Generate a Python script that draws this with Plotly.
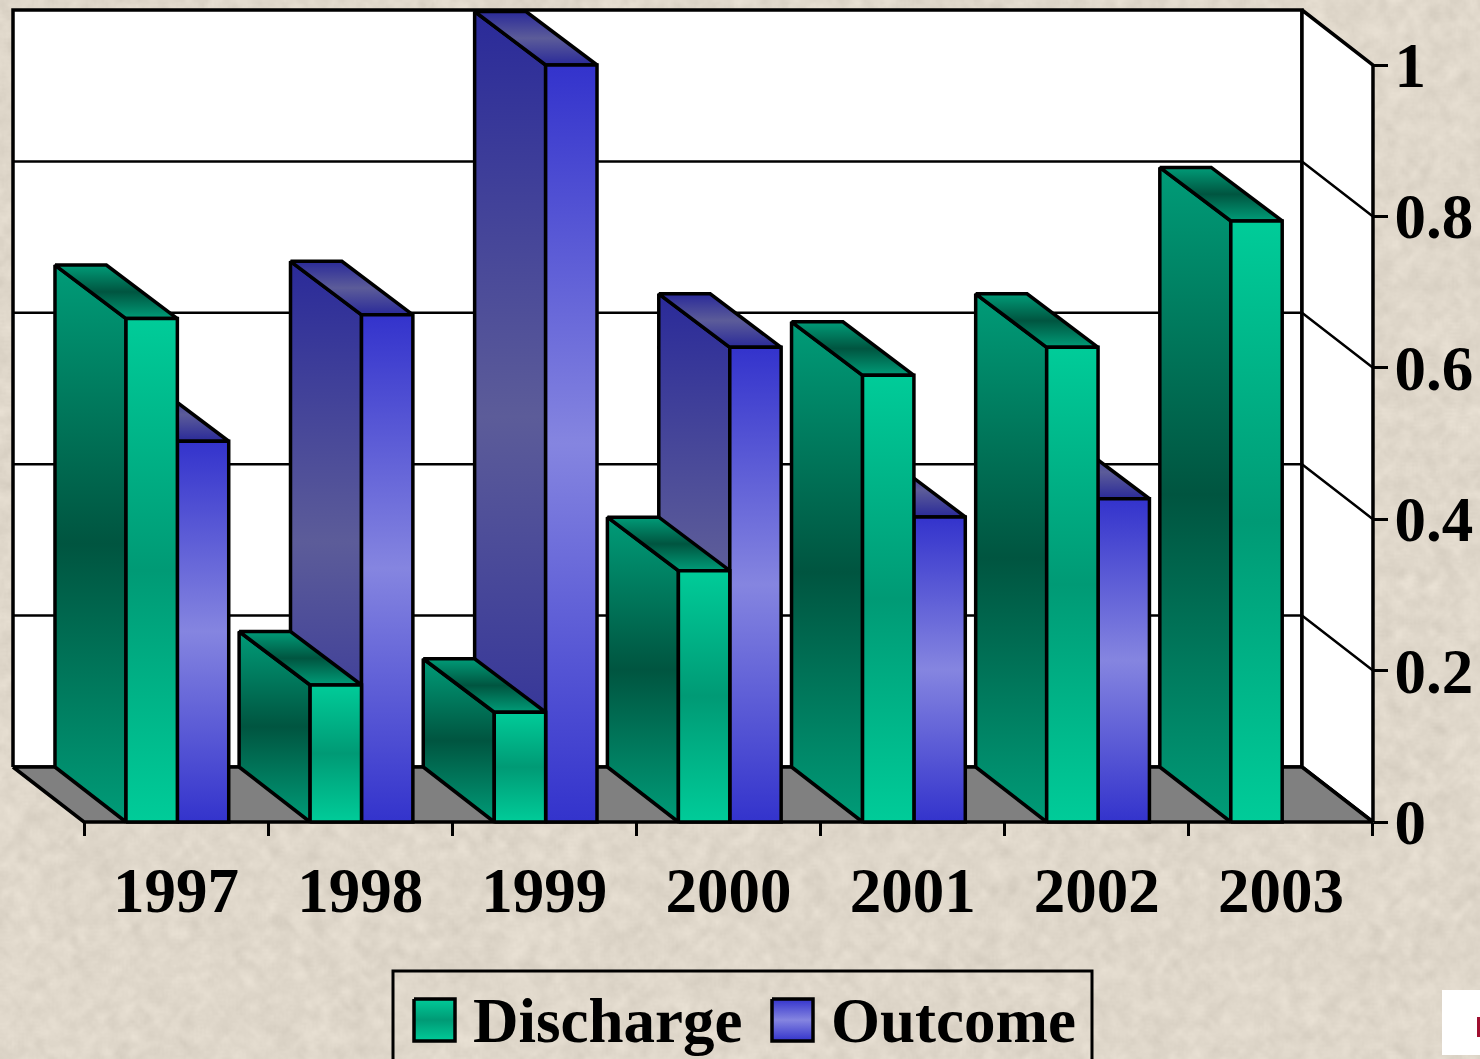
import base64
import struct
import zlib

import numpy as np
import plotly.graph_objects as go

# ---- data ----
years = ["1997", "1998", "1999", "2000", "2001", "2002", "2003"]
discharge = [0.665, 0.181, 0.145, 0.332, 0.590, 0.627, 0.794]
outcome = [0.503, 0.670, 1.0, 0.627, 0.403, 0.427, None]
y_ticks = [0, 0.2, 0.4, 0.6, 0.8, 1]
y_labels = ["0", "0.2", "0.4", "0.6", "0.8", "1"]

W, H = 1480, 1059
CAT_PX, UNIT_PX, X0_PX, Y0_PX = 184.14, 757.0, 84.0, 822.0
DX, DY = -71 / CAT_PX, 55 / UNIT_PX      # 3-D depth offset, in axis units
DY_TOP = 53.5 / UNIT_PX                  # depth rise of the bar tops
GAP, BAR = 0.228, 0.279                  # cluster gap / bar width, in categories
FONT = "Liberation Serif"
BG = "#e0d8cb"


def paper_texture():
    """Deterministic speckled paper background, as a PNG data URI."""
    h, w = H // 2, W // 2
    yy, xx = np.mgrid[0:h, 0:w].astype(float)
    noise = np.mod(np.sin(xx * 12.9898 + yy * 78.233) * 43758.5453, 1.0)
    soft = sum(np.roll(np.roll(noise, a, 0), b, 1) for a in (-1, 0, 1) for b in (-1, 0, 1)) / 9
    soft2 = sum(np.roll(np.roll(noise, a, 0), b, 1) for a in range(-3, 4) for b in range(-3, 4)) / 49
    shade = (soft - 0.5) * 22 + (soft2 - 0.5) * 40
    base = np.array([224.0, 216.0, 203.0])
    rgb = np.clip(base[None, None, :] + shade[:, :, None], 0, 255).astype(np.uint8)
    raw = b"".join(b"\x00" + rgb[r].tobytes() for r in range(h))

    def chunk(tag, data):
        return struct.pack(">I", len(data)) + tag + data + struct.pack(">I", zlib.crc32(tag + data))

    png = (b"\x89PNG\r\n\x1a\n" + chunk(b"IHDR", struct.pack(">IIBBBBB", w, h, 8, 2, 0, 0, 0))
           + chunk(b"IDAT", zlib.compress(raw, 9)) + chunk(b"IEND", b""))
    return "data:image/png;base64," + base64.b64encode(png).decode()


def grad(edge, mid):
    return [[0, edge], [0.5, mid], [1, edge]]


STYLES = {
    "Discharge": dict(front=grad("#00cc99", "#009a75"), side=grad("#009c78", "#005540"),
                      top=grad("#009c78", "#005540")),
    "Outcome": dict(front=grad("#3333cc", "#8585e0"), side=grad("#2a2a99", "#5c5c99"),
                    top=grad("#2a2a99", "#5c5c99")),
}

fig = go.Figure()


def poly(xs, ys, fill=None, gradient=None, lw=3.5, xa="x", ya="y", lc="black"):
    kw = dict(x=xs + xs[:1], y=ys + ys[:1], mode="lines", fill="toself", xaxis=xa, yaxis=ya,
              line=dict(color=lc, width=lw), hoverinfo="skip", showlegend=False)
    if gradient:
        kw["fillgradient"] = dict(type="vertical", colorscale=gradient, start=min(ys), stop=max(ys))
    else:
        kw["fillcolor"] = fill
    fig.add_trace(go.Scatter(**kw))


def line(xs, ys, lw=2.5):
    fig.add_trace(go.Scatter(x=xs, y=ys, mode="lines", line=dict(color="black", width=lw),
                             hoverinfo="skip", showlegend=False))


n = len(years)
# walls and floor
poly([DX, n + DX, n + DX, DX], [DY, DY, 1 + DY, 1 + DY], fill="white")
poly([n + DX, n, n, n + DX], [DY, 0, 1, 1 + DY], fill="white")
poly([DX, n + DX, n, 0], [DY, DY, 0, 0], fill="#808080")
for v in y_ticks[1:-1]:
    line([DX, n + DX, n], [v + DY, v + DY, v])


def bar(left, value, name):
    s = STYLES[name]
    right = left + BAR
    poly([left + DX, left, left, left + DX], [DY, 0, value, value + DY_TOP], gradient=s["side"])
    poly([left + DX, left + DX + BAR, right, left], [value + DY_TOP, value + DY_TOP, value, value], gradient=s["top"])
    poly([left, right, right, left], [0, 0, value, value], gradient=s["front"])


# paint from the right so that nearer (left) bars cover the later ones
for i in range(n - 1, -1, -1):
    if outcome[i] is not None:
        bar(i + GAP + BAR, outcome[i], "Outcome")
    bar(i + GAP, discharge[i], "Discharge")

# legend swatches on a full-page pixel axis (y counted up from the page bottom)
for name, x0 in (("Discharge", 414), ("Outcome", 772)):
    poly([x0, x0 + 41, x0 + 41, x0], [H - 999, H - 999, H - 1041, H - 1041],
         gradient=STYLES[name]["front"], xa="x2", ya="y2")

px_x = lambda p: (p - X0_PX) / CAT_PX
px_y = lambda p: (Y0_PX - p) / UNIT_PX
label_font = dict(family=FONT, size=63, color="black", weight=700)

fig.update_layout(
    width=W, height=H, autosize=False, margin=dict(l=0, r=0, t=0, b=0, pad=0, autoexpand=False),
    paper_bgcolor=BG, plot_bgcolor="rgba(0,0,0,0)", showlegend=False,
    images=[dict(source=paper_texture(), xref="paper", yref="paper", x=0, y=1, sizex=1, sizey=1,
                 sizing="stretch", xanchor="left", yanchor="top", layer="below")],
    xaxis=dict(domain=[4 / W, 1390 / W], range=[px_x(4), px_x(1390)], anchor="free",
               position=(H - Y0_PX) / H, tickmode="array",
               tickvals=[i + 0.5 for i in range(n)], ticktext=years, ticklen=0,
               tickfont=label_font, ticklabelstandoff=26, showgrid=False, zeroline=False, showline=False,
               minor=dict(tickmode="array", tickvals=list(range(n + 1)), ticks="outside",
                          ticklen=13, tickwidth=3, tickcolor="black", showgrid=False)),
    yaxis=dict(domain=[(H - 830) / H, (H - 4) / H], range=[px_y(830), px_y(4)], anchor="free",
               position=(X0_PX + n * CAT_PX) / W, side="right", tickmode="array",
               tickvals=y_ticks, ticktext=y_labels, ticks="outside", ticklen=14, tickwidth=3,
               ticklabelstandoff=-6, tickcolor="black", tickfont=label_font,
               showgrid=False, zeroline=False, showline=False),
    xaxis2=dict(domain=[0, 1], range=[0, W], anchor="y2", visible=False),
    yaxis2=dict(domain=[0, 1], range=[0, H], anchor="x2", visible=False),
    shapes=[
        dict(type="rect", xref="paper", yref="paper", x0=393 / W, x1=1092 / W, y0=(H - 971) / H, y1=-0.02,
             line=dict(color="black", width=3), fillcolor="rgba(0,0,0,0)"),
        dict(type="rect", xref="paper", yref="paper", x0=1442 / W, x1=1.01, y0=(H - 990) / H, y1=(H - 1055) / H,
             line=dict(width=0), fillcolor="white"),
        dict(type="rect", xref="paper", yref="paper", x0=1477 / W, x1=1.01, y0=(H - 1017) / H, y1=(H - 1037) / H,
             line=dict(width=0), fillcolor="#a01030"),
    ],
    annotations=[
        dict(text=t, x=x / W, y=(H - 1021) / H, xref="paper", yref="paper", xanchor="left", yanchor="middle",
             showarrow=False, font=dict(family=FONT, size=63, color="black", weight=700))
        for t, x in (("Discharge", 471), ("Outcome", 829))
    ],
)

fig.write_html("out.html", config={"displayModeBar": False},
               post_script="document.body.style.margin='0';document.documentElement.style.overflow='hidden';")
